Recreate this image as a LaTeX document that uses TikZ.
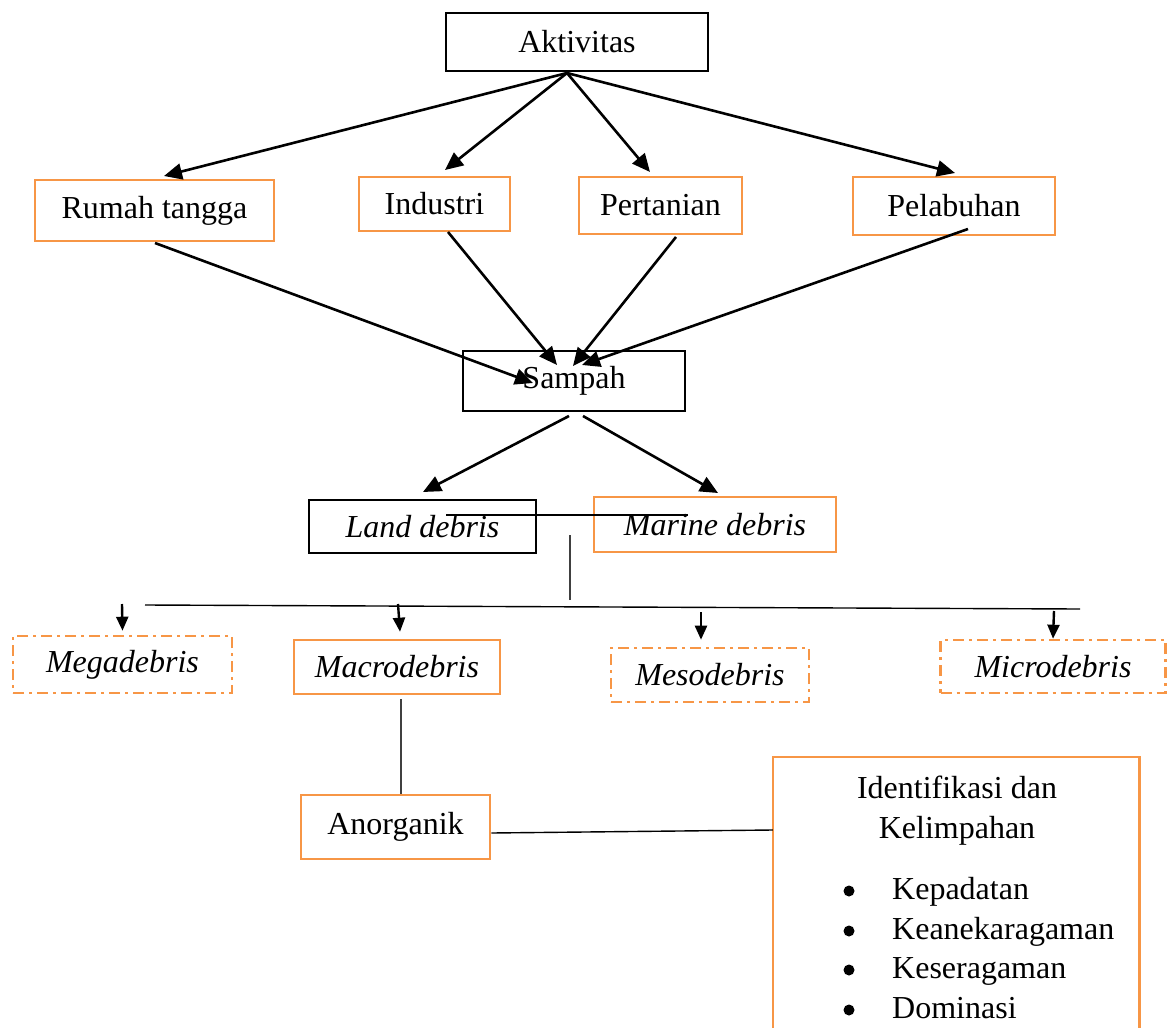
\documentclass[tikz,border=0pt]{standalone}
\usepackage{fontspec}
\setmainfont{Liberation Serif}
\usetikzlibrary{arrows.meta}
\definecolor{org}{RGB}{247,150,70}
\begin{document}
\begin{tikzpicture}[x=1pt,y=-1pt,
  every node/.style={font=\fontsize{32}{40}\selectfont, inner sep=0pt},
  rbox/.style n args={2}{rectangle, minimum width=#1pt, minimum height=#2pt, line width=2.6pt},
  blk/.style={draw=black},
  ora/.style={draw=org},
  dd/.style={draw=org, dash pattern=on 11pt off 5pt on 3pt off 5pt},
  arr/.style={-{Triangle[length=18pt,width=16pt]}, line width=2.6pt},
  sarr/.style={-{Triangle[length=14pt,width=12pt]}, line width=2.4pt},
  thin/.style={line width=1.4pt},
  dot/.style={circle, fill=black, inner sep=0pt, minimum size=11pt},
  it/.style={font=\fontsize{32}{40}\selectfont\itshape}
]
\useasboundingbox (0,0) rectangle (1168,1028);

% nodes
\node[rbox={262}{58}, blk] (akt) at (577,42) {Aktivitas};
\node[rbox={239}{61}, ora] (rt) at (154.5,210.5) {Rumah tangga};
\node[rbox={151}{54}, ora] (ind) at (434.5,204) {Industri};
\node[rbox={163}{57}, ora] (per) at (660.5,205.5) {Pertanian};
\node[rbox={202}{58}, ora] (pel) at (954,206) {Pelabuhan};
\node[rbox={222}{60}, blk] (sam) at (574,381) {Sampah};
\node[rbox={227}{53}, blk, it] (land) at (422.5,526.5) {Land debris};
\node[rbox={242}{55}, ora, it] (mar) at (715,524.5) {Marine debris};
\node[rbox={219}{57}, dd, it] (mega) at (122.5,664.5) {Megadebris};
\node[rbox={206}{54}, ora, it] (macro) at (397,667) {Macrodebris};
\node[rbox={198}{54}, dd, it] (meso) at (710,675) {Mesodebris};
\node[rbox={225}{53}, dd, it] (micro) at (1053,666.5) {Microdebris};
\node[rbox={189}{64}, ora] (ano) at (395.5,827) {Anorganik};
\node[rectangle, minimum width=366pt, minimum height=271pt] (big) at (956,892.5) {};
\draw[org, line width=2.6pt] (big.south west) -- (big.north west) -- (big.north east) -- (big.south east);
\node[align=center] (idt) at (957,811) {Identifikasi dan\\Kelimpahan};
\node[dot] (b1) at (849,891) {};
\node[dot] (b2) at (849,931) {};
\node[dot] (b3) at (849,970) {};
\node[dot] (b4) at (849,1010) {};
\node[anchor=base west] (t1) at (892,899) {Kepadatan};
\node[anchor=base west] (t2) at (892,939) {Keanekaragaman};
\node[anchor=base west] (t3) at (892,978) {Keseragaman};
\node[anchor=base west] (t4) at (892,1018) {Dominasi};

% coordinates
\coordinate (src) at (567,73);
\coordinate (rtT) at (164,176);
\coordinate (indT) at (445,170);
\coordinate (perT) at (650,172);
\coordinate (pelT) at (955,173);
\coordinate (rtS) at (155,243);
\coordinate (indS) at (448,232);
\coordinate (perS) at (676,237);
\coordinate (pelS) at (968,229);
\coordinate (samA) at (533,383);
\coordinate (samB) at (557,365);
\coordinate (samC) at (573,366);
\coordinate (samD) at (582,365);
\coordinate (samL) at (569,416);
\coordinate (samR) at (583,416);
\coordinate (landT) at (423,492);
\coordinate (marT) at (718,493);
\coordinate (hl1) at (446,515);
\coordinate (hl2) at (688,515);
\coordinate (v1) at (570,535);
\coordinate (v2) at (570,600);
\coordinate (h1) at (145,605);
\coordinate (h2) at (1080,609);

% arrows from Aktivitas
\draw[arr] (src) -- (rtT);
\draw[arr] (src) -- (indT);
\draw[arr] (src) -- (perT);
\draw[arr] (src) -- (pelT);
% arrows into Sampah
\draw[arr] (rtS) -- (samA);
\draw[arr] (indS) -- (samB);
\draw[arr] (perS) -- (samC);
\draw[arr] (pelS) -- (samD);
% from Sampah
\draw[arr] (samL) -- (landT);
\draw[arr] (samR) -- (marT);
% lines
\draw[thin] (hl1) -- (hl2);
\draw[thin, black!75] (v1) -- (v2);
\draw[thin] (h1) -- (h2);
% small arrows
\draw[sarr] (122,604) -- ([xshift=0pt,yshift=4pt]mega.north);
\draw[sarr] (398,604) -- ([xshift=3pt,yshift=7pt]macro.north);
\draw[sarr] (701,612) -- ([xshift=-9pt,yshift=7pt]meso.north);
\draw[sarr] (1054,611) -- ([xshift=0pt,yshift=0pt]micro.north);
% macro - anorganik - big
\draw[thin, black!75] ([xshift=4pt,yshift=-4pt]macro.south) -- ([xshift=5.5pt]ano.north);
\draw[thin] ([yshift=-6pt]ano.east) -- ([yshift=-3pt]big.west |- 0,827);
\end{tikzpicture}
\end{document}
